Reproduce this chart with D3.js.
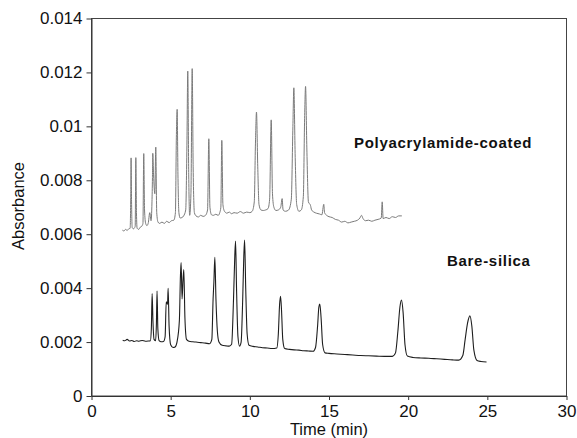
<!DOCTYPE html>
<html lang="en">
  <head>
    <meta charset="UTF-8" />
    <title>Absorbance vs Time</title>
    <script src="https://d3js.org/d3.v7.min.js"></script>
    <style>
      body {
        margin: 0;
        background: #fff;
        font-family: "Liberation Sans", Arial, sans-serif;
      }
      .axis text {
        font-size: 17px;
        fill: #111;
      }
      .axis path,
      .axis line {
        stroke: #333;
      }
      .label {
        font-weight: bold;
        font-size: 15px;
        letter-spacing: 0.7px;
        fill: #111;
      }
    </style>
  </head>
  <body>
    <svg id="chart" width="577" height="438"></svg>

    <script>
      const width = 577;
      const height = 438;
      const margin = { top: 18.5, right: 10.5, bottom: 42, left: 91.5 };

      const xTicks = [0, 5, 10, 15, 20, 25, 30];
      const yTicks = [0, 0.002, 0.004, 0.006, 0.008, 0.01, 0.012, 0.014];
      const yTickLabels = ["0", "0.002", "0.004", "0.006", "0.008", "0.01", "0.012", "0.014"];

      // polyacrylamide-coated capillary trace [time (min), absorbance]
      const coated = [
        [1.95, 0.00615], [2.05, 0.00612], [2.15, 0.00618], [2.25, 0.00614], [2.35, 0.0062],
        [2.44, 0.00622], [2.48, 0.0075], [2.5, 0.00883], [2.53, 0.0072], [2.57, 0.00625],
        [2.65, 0.0062], [2.72, 0.00624], [2.76, 0.0063], [2.8, 0.00884], [2.84, 0.0068], [2.88, 0.00622],
        [2.98, 0.00618], [3.08, 0.00626], [3.18, 0.0063], [3.25, 0.0064], [3.3, 0.00899], [3.35, 0.0069],
        [3.42, 0.0064], [3.5, 0.00632], [3.58, 0.0064], [3.68, 0.0068], [3.76, 0.0065],
        [3.82, 0.0072], [3.85, 0.0081], [3.87, 0.009], [3.92, 0.0082], [4.0, 0.0075], [4.06, 0.00923],
        [4.12, 0.0068], [4.2, 0.00645], [4.3, 0.0064], [4.45, 0.00645], [4.6, 0.0064], [4.75, 0.00648],
        [4.9, 0.00643], [5.05, 0.0065], [5.2, 0.00652], [5.3, 0.0068], [5.36, 0.0096], [5.41, 0.01063],
        [5.46, 0.0082], [5.52, 0.0068], [5.6, 0.0066], [5.72, 0.00662], [5.82, 0.00668],
        [5.95, 0.0069], [6.03, 0.0095], [6.08, 0.01205], [6.14, 0.0082], [6.2, 0.0067],
        [6.28, 0.0075], [6.36, 0.01214], [6.42, 0.0085], [6.5, 0.0068], [6.6, 0.00668],
        [6.75, 0.00664], [6.9, 0.0067], [7.05, 0.00666], [7.2, 0.0067], [7.33, 0.0069], [7.41, 0.00954],
        [7.48, 0.007], [7.58, 0.00672], [7.7, 0.0067], [7.85, 0.00674], [8.0, 0.0067], [8.1, 0.0068],
        [8.17, 0.007], [8.23, 0.00948], [8.3, 0.0071], [8.4, 0.00685], [8.55, 0.00678], [8.7, 0.00682],
        [8.85, 0.00676], [9.0, 0.0068], [9.2, 0.00678], [9.4, 0.00684], [9.6, 0.00678], [9.8, 0.00682],
        [10.0, 0.0068], [10.15, 0.00685], [10.28, 0.0072], [10.36, 0.0095], [10.42, 0.01053], [10.5, 0.0085],
        [10.58, 0.0071], [10.7, 0.0069], [10.85, 0.00688], [11.0, 0.0069], [11.15, 0.00695],
        [11.25, 0.0073], [11.35, 0.01024], [11.43, 0.0075], [11.52, 0.007], [11.65, 0.00688], [11.8, 0.0069],
        [11.95, 0.007], [12.04, 0.00732], [12.1, 0.0069], [12.25, 0.00685], [12.45, 0.0069],
        [12.62, 0.0073], [12.72, 0.01], [12.78, 0.01143], [12.86, 0.009], [12.96, 0.0071], [13.1, 0.00685],
        [13.25, 0.0069], [13.38, 0.0074], [13.46, 0.0103], [13.52, 0.01148], [13.6, 0.0092], [13.7, 0.0072],
        [13.83, 0.00707], [13.9, 0.0069], [14.05, 0.00682], [14.2, 0.00678], [14.4, 0.00675], [14.55, 0.00672],
        [14.67, 0.00711], [14.72, 0.0068], [14.85, 0.0067], [15.0, 0.00665], [15.2, 0.00662], [15.4, 0.00655],
        [15.6, 0.00652], [15.8, 0.00645], [16.0, 0.00648], [16.2, 0.00642], [16.4, 0.00645], [16.6, 0.00648],
        [16.8, 0.00652], [16.95, 0.0066], [17.05, 0.0067], [17.15, 0.00658], [17.3, 0.0065], [17.5, 0.00652],
        [17.7, 0.00648], [17.9, 0.00652], [18.1, 0.00655], [18.3, 0.0066], [18.36, 0.0072], [18.42, 0.00658],
        [18.6, 0.00662], [18.8, 0.00658], [19.0, 0.00665], [19.2, 0.00662], [19.4, 0.00668], [19.6, 0.00668]
      ];

      // bare-silica capillary trace [time (min), absorbance]
      const bare = [
        [1.97, 0.00207], [2.1, 0.00205], [2.25, 0.0021], [2.4, 0.00204], [2.55, 0.00206], [2.7, 0.00202],
        [2.85, 0.00205], [3.0, 0.00203], [3.2, 0.00206], [3.4, 0.00203], [3.6, 0.00204], [3.72, 0.00205],
        [3.78, 0.0025], [3.83, 0.0038], [3.88, 0.0028], [3.95, 0.0021], [4.05, 0.00205],
        [4.1, 0.0027], [4.14, 0.00389], [4.19, 0.0025], [4.27, 0.00205], [4.4, 0.00201], [4.55, 0.00202],
        [4.65, 0.0022], [4.72, 0.00349], [4.8, 0.0034], [4.84, 0.00399], [4.9, 0.0026], [5.0, 0.0019],
        [5.15, 0.0018], [5.28, 0.00182], [5.4, 0.002], [5.55, 0.0028], [5.62, 0.0045], [5.66, 0.00495],
        [5.72, 0.0036], [5.78, 0.0043], [5.83, 0.00469], [5.9, 0.0029], [6.0, 0.0021], [6.15, 0.00203],
        [6.4, 0.00201], [6.6, 0.002], [6.9, 0.00198], [7.2, 0.00196], [7.45, 0.00194], [7.6, 0.0021],
        [7.68, 0.0036], [7.73, 0.00423], [7.79, 0.00514], [7.86, 0.0036], [7.95, 0.0024], [8.05, 0.002],
        [8.25, 0.00188], [8.5, 0.00186], [8.7, 0.00185], [8.85, 0.00192], [8.97, 0.0036], [9.05, 0.0052],
        [9.1, 0.00575], [9.16, 0.004], [9.25, 0.0022], [9.35, 0.00185], [9.45, 0.002], [9.55, 0.0036],
        [9.62, 0.0052], [9.67, 0.00578], [9.74, 0.004], [9.83, 0.0023], [9.95, 0.00188], [10.2, 0.00184],
        [10.5, 0.00182], [10.8, 0.00179], [11.1, 0.00178], [11.4, 0.00176], [11.7, 0.00178], [11.8, 0.0023],
        [11.88, 0.0034], [11.94, 0.0037], [12.0, 0.0032], [12.08, 0.0021], [12.2, 0.00176], [12.5, 0.00173],
        [12.8, 0.00171], [13.1, 0.0017], [13.4, 0.00168], [13.7, 0.00167], [14.0, 0.00166], [14.15, 0.0018],
        [14.28, 0.0026], [14.36, 0.0033], [14.42, 0.00341], [14.5, 0.0029], [14.6, 0.0019], [14.75, 0.0016],
        [15.0, 0.00158], [15.5, 0.00156], [16.0, 0.00154], [16.5, 0.00152], [17.0, 0.0015], [17.5, 0.00149],
        [18.0, 0.00148], [18.5, 0.00147], [19.0, 0.00147], [19.2, 0.0016], [19.35, 0.0024], [19.48, 0.0033],
        [19.58, 0.00356], [19.68, 0.0031], [19.8, 0.0019], [19.95, 0.00148], [20.3, 0.00143], [20.8, 0.00141],
        [21.3, 0.0014], [21.8, 0.00138], [22.3, 0.00136], [22.8, 0.00134], [23.2, 0.00133], [23.45, 0.0015],
        [23.6, 0.0021], [23.75, 0.0027], [23.9, 0.00297], [24.02, 0.0026], [24.15, 0.0017], [24.35, 0.00132],
        [24.6, 0.00128], [24.95, 0.00126]
      ];

      const svg = d3.select("#chart");

      const x = d3.scaleLinear().domain([0, 30]).range([margin.left, width - margin.right]);
      const y = d3.scaleLinear().domain([0, 0.014]).range([height - margin.bottom, margin.top]);

      // frame
      svg
        .append("rect")
        .attr("x", margin.left)
        .attr("y", margin.top)
        .attr("width", width - margin.right - margin.left)
        .attr("height", height - margin.bottom - margin.top)
        .attr("fill", "none")
        .attr("stroke", "#444");

      svg
        .append("g")
        .attr("class", "axis")
        .attr("transform", `translate(0, ${height - margin.bottom})`)
        .call(d3.axisBottom(x).tickValues(xTicks).tickSize(4).tickSizeOuter(0).tickPadding(4))
        .call((g) => g.selectAll("text").attr("dy", "0.75em"));

      svg
        .append("g")
        .attr("class", "axis")
        .attr("transform", `translate(${margin.left}, 0)`)
        .call(
          d3
            .axisLeft(y)
            .tickValues(yTicks)
            .tickFormat((d, i) => yTickLabels[i])
            .tickSize(5)
            .tickSizeOuter(0)
            .tickPadding(4)
        );

      svg
        .append("text")
        .attr("x", (margin.left + width - margin.right) / 2)
        .attr("y", 435)
        .attr("text-anchor", "middle")
        .attr("font-size", 16.5)
        .attr("fill", "#111")
        .text("Time (min)");

      svg
        .append("text")
        .attr("transform", "translate(24, 206) rotate(-90)")
        .attr("text-anchor", "middle")
        .attr("font-size", 16.5)
        .attr("fill", "#111")
        .text("Absorbance");

      const line = d3
        .line()
        .x((d) => x(d[0]))
        .y((d) => y(d[1]))
        .curve(d3.curveMonotoneX);

      svg.append("path").datum(coated).attr("d", line).attr("fill", "none").attr("stroke", "#7a7a7a").attr("stroke-width", 1);
      svg.append("path").datum(bare).attr("d", line).attr("fill", "none").attr("stroke", "#1e1e1e").attr("stroke-width", 1.1);

      svg.append("text").attr("class", "label").attr("x", 354).attr("y", 148).text("Polyacrylamide-coated");
      svg.append("text").attr("class", "label").attr("x", 447).attr("y", 266).text("Bare-silica");
    </script>
  </body>
</html>
